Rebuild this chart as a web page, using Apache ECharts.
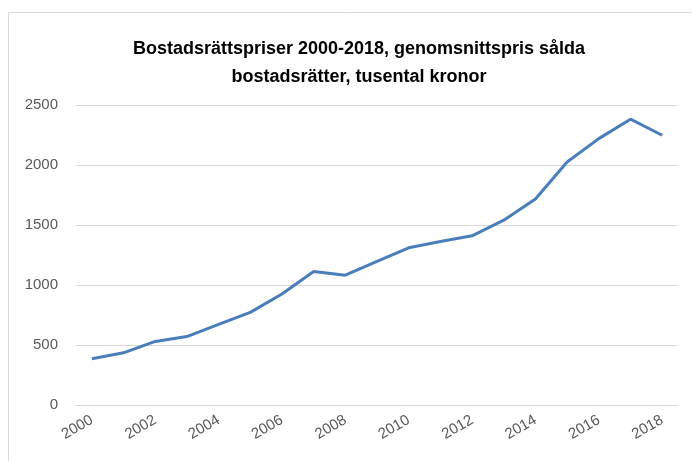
<!DOCTYPE html>
<html>
<head>
<meta charset="utf-8">
<script src="https://cdn.jsdelivr.net/npm/echarts@6/dist/echarts.min.js"></script>
<style>
  html, body { margin: 0; padding: 0; background: #fff; }
  #chart { width: 692px; height: 461px; }
</style>
</head>
<body>
<div id="chart"></div>
<script>
// år och genomsnittspris (tusental kronor)
const years = ["2000", "2001", "2002", "2003", "2004", "2005", "2006", "2007", "2008", "2009",
  "2010", "2011", "2012", "2013", "2014", "2015", "2016", "2017", "2018"];
const prices = [385, 435, 530, 570, 672, 772, 925, 1112, 1082, 1196,
  1310, 1362, 1410, 1540, 1717, 2025, 2220, 2382, 2248];
const yTicks = [0, 500, 1000, 1500, 2000, 2500];

const chart = echarts.init(document.getElementById("chart"));

const option = {
  backgroundColor: "#fff",
  animation: false,
  title: {
    text: "Bostadsrättspriser 2000-2018, genomsnittspris sålda\nbostadsrätter, tusental kronor",
    left: 354,
    textAlign: "center",
    top: 30,
    textStyle: {
      fontFamily: "Liberation Sans",
      fontWeight: "bold",
      fontSize: 18,
      lineHeight: 28,
      color: "#000",
    },
  },
  graphic: [
    {
      type: "rect",
      shape: { x: 8.5, y: 12.5, width: 720, height: 480 },
      style: { fill: "none", stroke: "#d9d9d9", lineWidth: 1 },
      silent: true,
    },
  ],
  grid: {
    left: 76,
    right: 14,
    top: 105,
    bottom: 56,
  },
  xAxis: {
    type: "category",
    data: years,
    boundaryGap: true,
    axisLine: { lineStyle: { color: "#d9d9d9", width: 1 } },
    axisTick: { show: false },
    axisLabel: {
      interval: 1,
      rotate: 30,
      margin: 14,
      color: "#595959",
      fontFamily: "Liberation Sans",
      fontSize: 15,
    },
  },
  yAxis: {
    type: "value",
    min: yTicks[0],
    max: yTicks[yTicks.length - 1],
    interval: 500,
    axisLine: { show: false },
    axisTick: { show: false },
    splitLine: { lineStyle: { color: "#d9d9d9", width: 1 } },
    axisLabel: {
      margin: 18,
      color: "#595959",
      fontFamily: "Liberation Sans",
      fontSize: 15,
      formatter: (v) => String(v),
    },
  },
  series: [
    {
      name: "Genomsnittspris",
      type: "line",
      data: prices,
      symbol: "none",
      lineStyle: { color: "#4a7ebb", width: 3 },
      itemStyle: { color: "#4a7ebb" },
    },
  ],
};

chart.setOption(option);
</script>
</body>
</html>
